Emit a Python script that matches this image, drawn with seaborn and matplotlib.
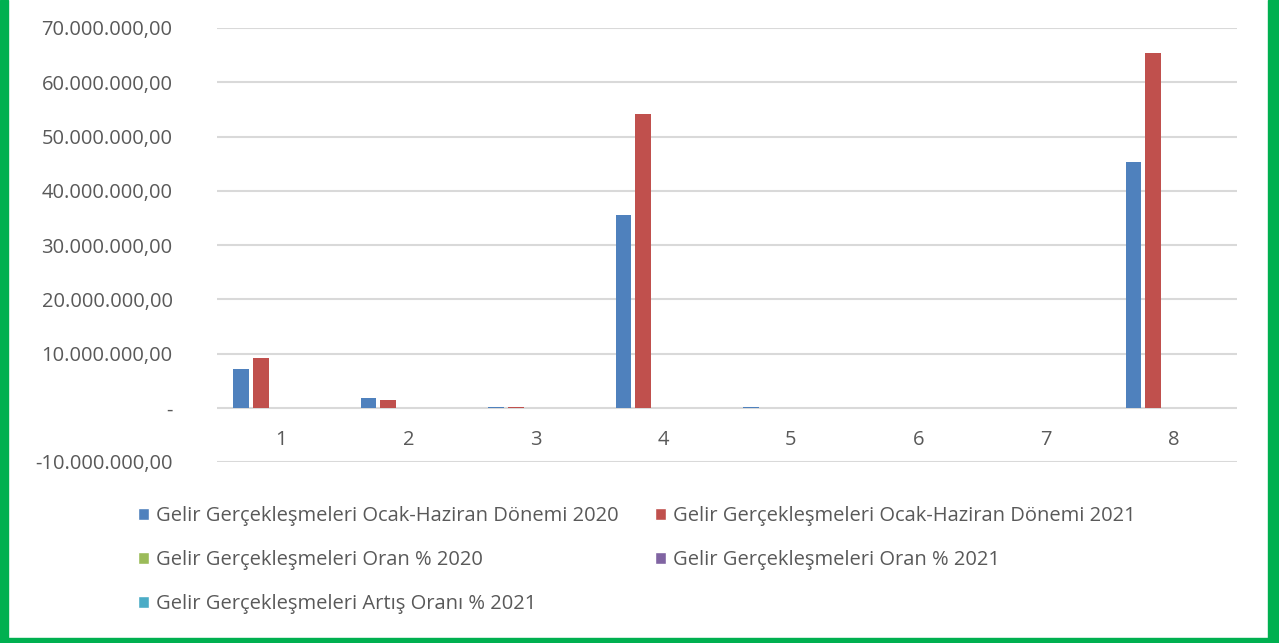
import pandas as pd
import numpy as np
import matplotlib.pyplot as plt
import seaborn as sns
from matplotlib.patches import Rectangle, Patch
from matplotlib.ticker import FuncFormatter

categories = ["1", "2", "3", "4", "5", "6", "7", "8"]
seriler = ["Gelir Gerçekleşmeleri Ocak-Haziran Dönemi 2020",
           "Gelir Gerçekleşmeleri Ocak-Haziran Dönemi 2021",
           "Gelir Gerçekleşmeleri Oran % 2020",
           "Gelir Gerçekleşmeleri Oran % 2021",
           "Gelir Gerçekleşmeleri Artış Oranı % 2021"]
donem_2020 = [7200000, 1800000, 100000, 35600000, 100000, 0, 0, 45300000]
donem_2021 = [9200000, 1400000, 100000, 54200000, 0, 0, 0, 65400000]
oran_2020 = [0, 0, 0, 0, 0, 0, 0, 0]
oran_2021 = [0, 0, 0, 0, 0, 0, 0, 0]
artis_2021 = [0, 0, 0, 0, 0, 0, 0, 0]
renkler = ["#4F81BD", "#C0504D", "#9BBB59", "#8064A2", "#4BACC6"]

df = pd.DataFrame({"kategori": categories * 5,
                   "seri": np.repeat(seriler, 8),
                   "deger": donem_2020 + donem_2021 + oran_2020 + oran_2021 + artis_2021})

sns.set_style("white")
plt.rcParams['font.family'] = ['Open Sans', 'DejaVu Sans']
yazi = "#595959"

fig = plt.figure(figsize=(12.79, 6.43), dpi=100)
fig.patch.set_facecolor("white")
# yesil cerceve
fig.patches.append(Rectangle((0, 0), 8/1279, 1, transform=fig.transFigure, color="#00B050", zorder=0))
fig.patches.append(Rectangle((1268/1279, 0), 11/1279, 1, transform=fig.transFigure, color="#00B050", zorder=0))
fig.patches.append(Rectangle((0, 0), 1, 5/643, transform=fig.transFigure, color="#00B050", zorder=0))

ax = fig.add_axes([217/1279, 1 - 462/643, 1020/1279, 434/643])
sns.barplot(data=df, x="kategori", y="deger", hue="seri", palette=renkler, saturation=1,
            width=0.78, gap=0.2, ax=ax, legend=False, linewidth=0)

ax.set_ylim(-10000000, 70000000)
ax.set_yticks(np.arange(-10000000, 70000001, 10000000))

def bicim(v, pos):
    if v == 0:
        return "-"
    s = f"{abs(v):,.2f}".replace(",", "X").replace(".", ",").replace("X", ".")
    return ("-" if v < 0 else "") + s

ax.yaxis.set_major_formatter(FuncFormatter(bicim))
ax.grid(axis="y", color="#D9D9D9", linewidth=1.5)
ax.set_axisbelow(True)
for s in ax.spines.values():
    s.set_visible(False)
ax.spines['bottom'].set_position(('data', 0))
ax.tick_params(axis="y", length=0, pad=32, labelsize=14.5, labelcolor=yazi)
ax.tick_params(axis="x", length=0, pad=16, labelsize=14.5, labelcolor=yazi)
ax.set_xlabel("")
ax.set_ylabel("")

# satir sirasi icin yeniden dizme
sira = [0, 2, 4, 1, 3]
handles = [Patch(facecolor=renkler[i]) for i in sira]
etiketler = [seriler[i] for i in sira]
fig.legend(handles, etiketler, loc="upper left", bbox_to_anchor=(130/1279, 1 - 498/643),
           ncol=2, frameon=False, fontsize=14.5, labelcolor=yazi,
           handlelength=0.55, handleheight=0.55, handletextpad=0.35,
           labelspacing=1.2, columnspacing=1.8, borderaxespad=0)

fig.savefig("out.png", dpi=100, facecolor=fig.get_facecolor())
